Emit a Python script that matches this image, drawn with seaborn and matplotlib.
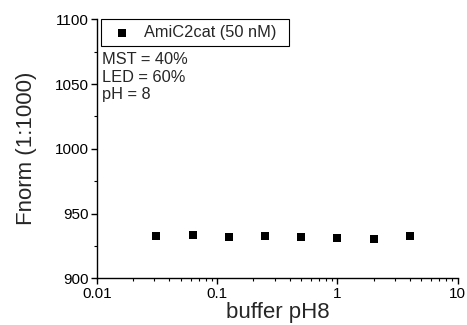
import matplotlib
matplotlib.use("Agg")
import matplotlib.pyplot as plt
import matplotlib.ticker as mticker
import numpy as np
import pandas as pd
import seaborn as sns

# Dilution series of buffer pH8 and normalised fluorescence
dilution = [0.03125, 0.0625, 0.125, 0.25, 0.5, 1, 2, 4]
fnorm = [932.8, 933.3, 931.8, 932.8, 931.8, 930.8, 930.2, 932.8]
series_label = "AmiC2cat (50 nM)"
conditions = ["MST = 40%", "LED = 60%", "pH = 8"]
x_ticks = [0.01, 0.1, 1, 10]
x_tick_labels = ["0.01", "0.1", "1", "10"]
y_ticks = [900, 950, 1000, 1050, 1100]

sns.set_style("ticks")
plt.rcParams["font.family"] = ["Liberation Sans", "DejaVu Sans"]

df = pd.DataFrame({"dilution": dilution, "fnorm": fnorm})

fig = plt.figure(figsize=(4.67, 3.25), dpi=100)
ax = fig.add_axes([0.2077, 0.1437, 0.7723, 0.7969])

sns.scatterplot(data=df, x="dilution", y="fnorm", marker="s", s=34,
                color="black", edgecolor="black", linewidth=0,
                label=series_label, ax=ax, zorder=3)

ax.set_xscale("log")
ax.set_xlim(0.01, 10)
ax.set_ylim(900, 1100)
ax.set_xticks(x_ticks)
ax.set_xticklabels(x_tick_labels)
ax.xaxis.set_minor_locator(mticker.LogLocator(base=10, subs=np.arange(2, 10)))
ax.xaxis.set_minor_formatter(mticker.NullFormatter())
ax.set_yticks(y_ticks)
ax.yaxis.set_minor_locator(mticker.MultipleLocator(25))

for side in ("top", "right"):
    ax.spines[side].set_visible(False)
for side in ("left", "bottom"):
    ax.spines[side].set_linewidth(1.0)
    ax.spines[side].set_color("black")

ax.tick_params(which="major", direction="out", length=4, width=1.0,
               labelsize=11, colors="black", pad=2)
ax.tick_params(which="minor", direction="out", length=2.5, width=0.8,
               colors="black")

ax.set_xlabel("buffer pH8", fontsize=16, labelpad=1)
ax.set_ylabel("Fnorm (1:1000)", fontsize=16, labelpad=13)

# Legend box stretched to a fixed width in axes coordinates
leg = ax.legend(loc="upper left", bbox_to_anchor=(0.011, 0.5, 0.521, 0.5),
                mode="expand", borderaxespad=0, fontsize=11.8, frameon=True,
                fancybox=False, handletextpad=0.4, borderpad=0.35,
                handlelength=1.85)
frame = leg.get_frame()
frame.set_edgecolor("black")
frame.set_linewidth(0.8)
frame.set_alpha(1)

ax.text(0.014, 0.874, "\n".join(conditions), transform=ax.transAxes,
        ha="left", va="top", fontsize=11.8, linespacing=1.22)

fig.savefig("out.png", dpi=100)
